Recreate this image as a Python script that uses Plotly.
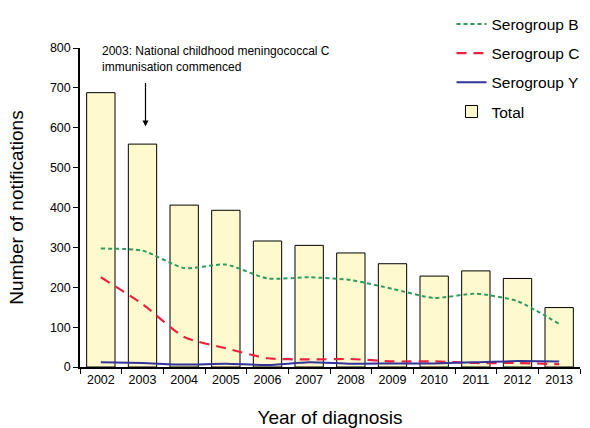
import plotly.graph_objects as go

years = ["2002", "2003", "2004", "2005", "2006", "2007", "2008", "2009", "2010", "2011", "2012", "2013"]
total = [688, 559, 406, 393, 316, 305, 286, 259, 228, 241, 222, 149]
sero_b = [297, 292, 248, 257, 222, 225, 218, 196, 173, 184, 165, 108]
sero_c = [225, 158, 75, 47, 22, 19, 20, 14, 14, 10, 10, 7]
sero_y = [12, 10, 6, 8, 5, 12, 8, 9, 9, 12, 15, 14]

font_family = "Liberation Sans, Arial, sans-serif"

fig = go.Figure()
fig.add_trace(go.Bar(x=years, y=total, name="Total",
                     marker=dict(color="#FFFACD", line=dict(color="black", width=1)),
                     legendgroup="t", legendrank=4))
fig.add_trace(go.Scatter(x=years, y=sero_b, name="Serogroup B", mode="lines",
                         line=dict(color="#2E9B5F", width=2, dash="4px,3px", shape="spline", smoothing=0.6),
                         legendgroup="b", legendrank=1))
fig.add_trace(go.Scatter(x=years, y=sero_c, name="Serogroup C", mode="lines",
                         line=dict(color="#EE2040", width=2.2, dash="10px,7px", shape="spline", smoothing=0.6),
                         legendgroup="c", legendrank=2))
fig.add_trace(go.Scatter(x=years, y=sero_y, name="Serogroup Y", mode="lines",
                         line=dict(color="#333399", width=2, shape="spline", smoothing=0.6),
                         legendgroup="y", legendrank=3))

i2003 = years.index("2003")
fig.add_annotation(x=i2003, y=1.02, xref="x", yref="paper",
                   text="2003: National childhood meningococcal C<br>immunisation commenced",
                   showarrow=False, xanchor="left", yanchor="top", xshift=-43,
                   align="left", font=dict(size=12, color="black", family=font_family))
fig.add_annotation(x=i2003, y=603, ax=i2003, ay=716, xref="x", yref="y", axref="x", ayref="y",
                   text="", showarrow=True, arrowhead=2, arrowsize=1, arrowwidth=1.2, arrowcolor="black",
                   standoff=0, xshift=3)

fig.update_layout(
    width=590, height=428,
    margin=dict(l=80, r=10, t=48, b=61, autoexpand=False),
    paper_bgcolor="white", plot_bgcolor="white",
    font=dict(family=font_family, color="black"),
    bargap=0.32,
    showlegend=True,
    legend=dict(x=0.743, y=1.127, xanchor="left", yanchor="top",
                font=dict(size=15.5, color="black", family=font_family),
                tracegroupgap=6, bgcolor="rgba(0,0,0,0)", itemwidth=30),
    xaxis=dict(type="category", showline=True, linecolor="black", linewidth=1.5,
               ticks="outside", tickson="boundaries", ticklen=5, tickcolor="black",
               tickfont=dict(size=12.5, family=font_family), tickangle=0,
               title=dict(text="Year of diagnosis", font=dict(size=19, family=font_family), standoff=27),
               showgrid=False, automargin=False),
    yaxis=dict(range=[0, 800], dtick=100, showline=True, linecolor="black", linewidth=1.5,
               ticks="outside", ticklen=5, tickcolor="black",
               tickfont=dict(size=12.5, family=font_family),
               title=dict(text="Number of notifications", font=dict(size=19, family=font_family), standoff=21),
               showgrid=False, zeroline=False, automargin=False),
)

fig.write_html("out.html", config={"displayModeBar": False},
               post_script="document.body.style.margin='0';")
